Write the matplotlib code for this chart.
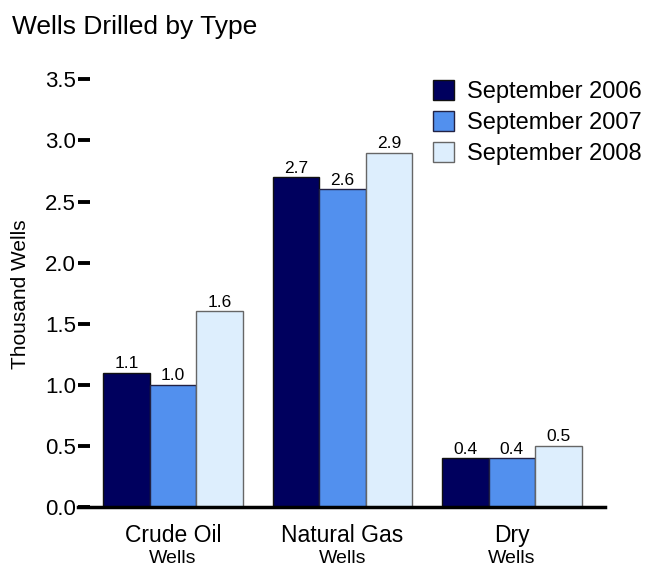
import numpy as np
import matplotlib.pyplot as plt

plt.rcParams['font.family'] = ['Liberation Sans', 'DejaVu Sans']

# data
categories = ["Crude Oil", "Natural Gas", "Dry"]
sublabels = ["Wells", "Wells", "Wells"]
series_names = ["September 2006", "September 2007", "September 2008"]
sep_2006 = [1.1, 2.7, 0.4]
sep_2007 = [1.0, 2.6, 0.4]
sep_2008 = [1.6, 2.9, 0.5]
yticks = [0.0, 0.5, 1.0, 1.5, 2.0, 2.5, 3.0, 3.5]

colors = ["#00005E", "#5290EE", "#DDEEFD"]
edges = ["#111111", "#222244", "#666666"]

fig = plt.figure(figsize=(6.45, 5.69), dpi=100)
ax = fig.add_axes([0.1395, 0.109, 0.7985, 0.773])

x = np.arange(len(categories))
w = 0.275
all_series = [sep_2006, sep_2007, sep_2008]
for i, vals in enumerate(all_series):
    pos = x + (i - 1) * w
    ax.bar(pos, vals, width=w, color=colors[i], edgecolor=edges[i],
           linewidth=1.0, label=series_names[i], zorder=2)
    for px, v in zip(pos, vals):
        ax.text(px, v + 0.012, f"{v:.1f}", ha="center", va="bottom",
                fontsize=12.5)

ax.set_xlim(-0.49, 2.55)
ax.set_ylim(0, 3.6)
ax.set_yticks(yticks)
ax.set_yticklabels([f"{t:.1f}" for t in yticks], fontsize=16)
ax.tick_params(axis="y", direction="out", length=8.5, width=2.8, pad=1.5)
ax.set_xticks([])

for s in ["top", "right", "left"]:
    ax.spines[s].set_visible(False)
ax.spines["bottom"].set_linewidth(2.5)
ax.spines["bottom"].set_zorder(3)
ax.spines["bottom"].set_bounds(-0.56, 2.55)
ax.spines["bottom"].set_clip_on(False)

# two-line category labels under the axis
for xi, cat, sub in zip(x, categories, sublabels):
    ax.text(xi, -0.286, cat, ha="center", va="baseline", fontsize=16.5,
            clip_on=False)
    ax.text(xi, -0.458, sub, ha="center", va="baseline", fontsize=14,
            clip_on=False)

ax.set_ylabel("Thousand Wells", fontsize=15)
ax.yaxis.set_label_coords(-0.116, 0.484)

fig.text(0.019, 0.952, "Wells Drilled by Type", fontsize=19, ha="left",
         va="center")

ax.legend(loc="upper right", bbox_to_anchor=(1.113, 1.019), frameon=False,
          fontsize=17, handlelength=0.9, handleheight=0.9,
          handletextpad=0.55, labelspacing=0.35)

fig.savefig("out.png", dpi=100)
